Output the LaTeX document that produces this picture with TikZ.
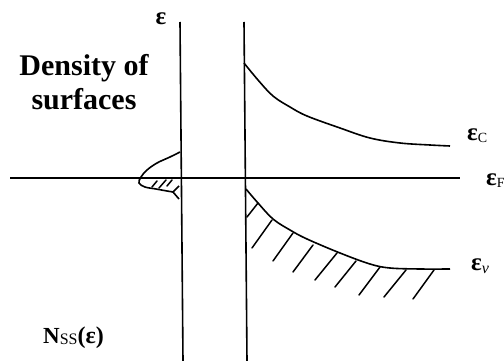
\documentclass[tikz,border=0pt]{standalone}
\usepackage{fontspec}
\setmainfont{Liberation Serif}
\begin{document}
\begin{tikzpicture}[x=1pt,y=-1pt,
  axis/.style={line width=1.6pt},
  curve/.style={line width=1.6pt},
  hatch/.style={line width=1.5pt, line cap=round},
  lbl/.style={inner sep=0pt, font=\bfseries\fontsize{25}{28}\selectfont},
  big/.style={inner sep=0pt, font=\bfseries\fontsize{30}{34}\selectfont}]
\useasboundingbox (0,0) rectangle (504,361);
% axes
\coordinate (l1) at (180,22); \coordinate (l2) at (183,361);
\coordinate (r1) at (244,22); \coordinate (r2) at (247,361);
\coordinate (h1) at (10,178); \coordinate (h2) at (460,178);
\draw[axis] (l1) -- (l2);
\draw[axis] (r1) -- (r2);
\draw[axis] (h1) -- (h2);
% conduction band edge
\draw[curve] plot[smooth, tension=0.6] coordinates {(244,63) (258,80) (273,96) (290,107) (307,116) (340,128) (370,138) (400,143) (430,145) (450,146)};
% valence band edge
\draw[curve] plot[smooth, tension=0.6] coordinates {(246,189) (258,203) (273,219) (290,230) (307,239) (340,253) (370,264) (390,268) (420,269) (450,269)};
% hatches under valence band
\foreach \a/\b/\c/\d in {247/217/258/203, 252/248/272/220, 273/261/293/233, 293/272/313/245, 315/280/337/253, 335/287/356/261, 359/295/380/267, 384/297/406/270, 413/299/434/270}
  \draw[hatch] (\a,\b) -- (\c,\d);
% surface density bump
\draw[curve] plot[smooth, tension=0.6] coordinates {(180,152) (170,157) (157,163) (147,170) (141,177) (139,183) (145,187) (156,189) (167,191) (173,192)};
\draw[curve] (179,186) -- (173,192) -- (179,199);
\foreach \a/\b/\c/\d in {152/187/157/181, 159/188/166/180, 167/186/172/180}
  \draw[hatch] (\a,\b) -- (\c,\d);
% labels
\node[lbl, anchor=base] (eps) at (161,25) {ε};
\node[big, anchor=base] (dens) at (84,76) {Density of};
\node[big, anchor=base] (surf) at (84,110) {surfaces};
\node[lbl, anchor=base west] (ec) at (467,140) {ε\raisebox{-2pt}{\fontsize{14}{15}\mdseries C}};
\node[lbl, anchor=base west] (ef) at (486,185) {ε\raisebox{-2pt}{\fontsize{14}{15}\mdseries F}};
\node[lbl, anchor=base west] (ev) at (471,270) {ε\raisebox{-3pt}{\fontsize{16}{17}\mdseries\itshape v}};
\node[inner sep=0pt, anchor=base west, font=\bfseries\fontsize{23}{26}\selectfont] (nss) at (43,343) {N\raisebox{-1pt}{\fontsize{16}{17}\mdseries SS}\fontsize{24}{26}\selectfont(ε)};
\end{tikzpicture}
\end{document}
